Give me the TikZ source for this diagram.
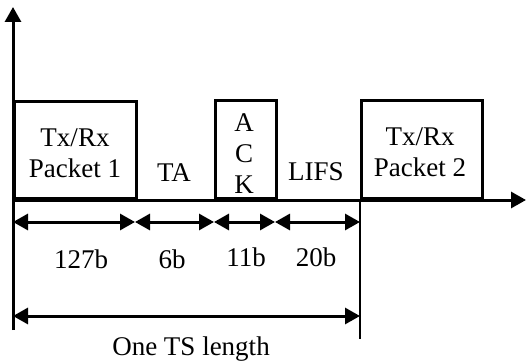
\documentclass[tikz,border=0pt]{standalone}
\usepackage{fontspec}
\setmainfont{Liberation Serif}
\usetikzlibrary{arrows.meta}
\begin{document}
\begin{tikzpicture}[x=1pt,y=-1pt,
  pbox/.style={draw,line width=3pt,inner sep=0pt,anchor=south west},
  lbl/.style={font=\fontsize{27}{30}\selectfont,anchor=base,inner sep=0pt},
  dim/.style={line width=3pt,{Triangle[length=15pt,width=16pt]}-{Triangle[length=15pt,width=16pt]}},
  axis/.style={line width=3pt,-{Triangle[length=15pt,width=16pt]}}]
\useasboundingbox (0,0) rectangle (526,361);
% axes
\coordinate (o) at (13,200);
\coordinate (ytop) at (13,7);
\coordinate (ybot) at (13,330);
\coordinate (xend) at (526,200);
\draw[axis] (ybot) -- (ytop);
\draw[axis] (o) -- (xend);
% boxes
\node[pbox,minimum width=122pt,minimum height=97pt] (p1) at (13,200) {};
\node[pbox,minimum width=61pt,minimum height=98pt] (ack) at (214,200) {};
\node[pbox,minimum width=121pt,minimum height=98pt] (p2) at (360,200) {};
% box texts
\node[lbl] (p1a) at (75,146) {Tx/Rx};
\node[lbl] (p1b) at (75,177) {Packet 1};
\node[lbl] (p2a) at (420,145) {Tx/Rx};
\node[lbl] (p2b) at (420,176) {Packet 2};
\node[lbl] (ka) at (244,131) {A};
\node[lbl] (kc) at (244,162) {C};
\node[lbl] (kk) at (244,193) {K};
\node[lbl] (ta) at (174,181) {TA};
\node[lbl] (lifs) at (316,180) {LIFS};
% vertical end line
\coordinate (v1) at (360,200);
\coordinate (v2) at (360,339);
\draw[line width=1.5pt] (v1) -- (v2);
% dimension arrows
\coordinate (d0) at (13,222);
\coordinate (d1) at (135,222);
\coordinate (d2) at (214,222);
\coordinate (d3) at (275,222);
\coordinate (d4) at (360,222);
\draw[dim] (d0) -- (d1);
\draw[dim] (d1) -- (d2);
\draw[dim] (d2) -- (d3);
\draw[dim] (d3) -- (d4);
\node[lbl] (l1) at (81,268) {127b};
\node[lbl] (l2) at (172,268) {6b};
\node[lbl] (l3) at (246,266) {11b};
\node[lbl] (l4) at (316,266) {20b};
% total
\coordinate (t0) at (13,316);
\coordinate (t1) at (360,316);
\draw[dim] (t0) -- (t1);
\node[lbl] (tl) at (191,355) {One TS length};
\end{tikzpicture}
\end{document}
